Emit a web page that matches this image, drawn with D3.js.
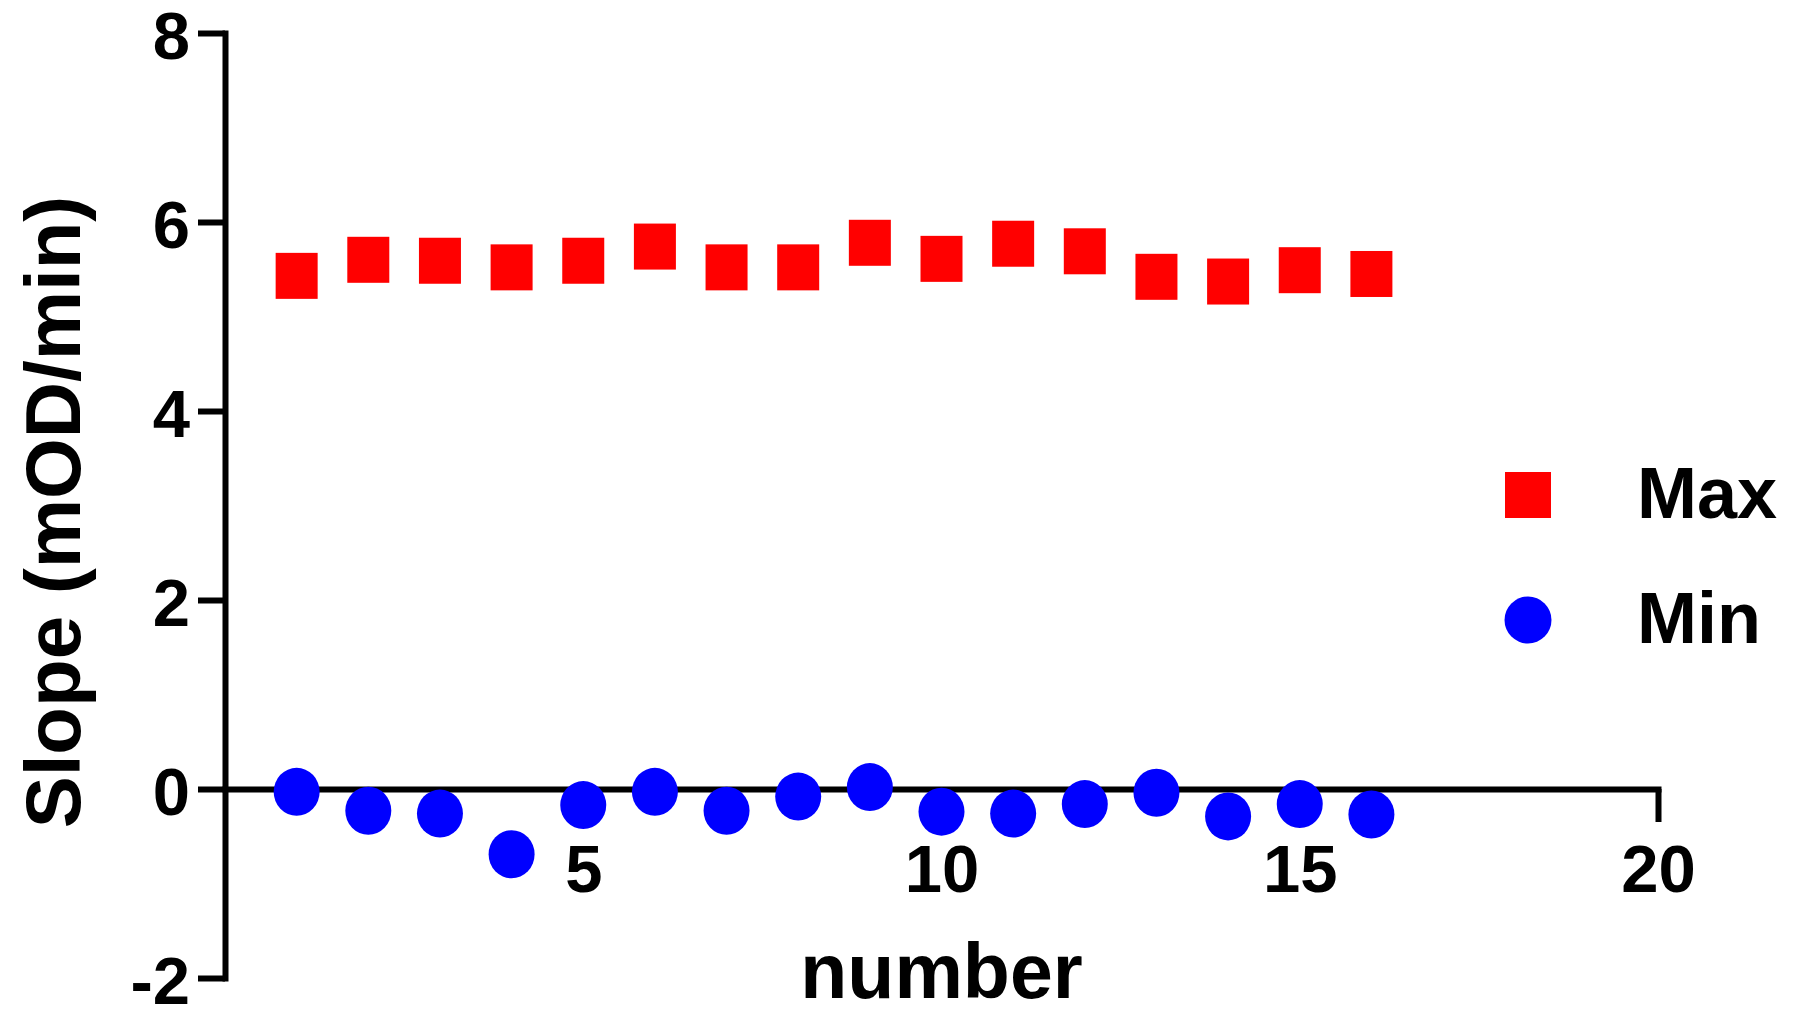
<!DOCTYPE html>
<html>
<head>
<meta charset="utf-8">
<script src="https://cdnjs.cloudflare.com/ajax/libs/d3/7.8.5/d3.min.js"></script>
<style>
  body { margin: 0; background: #fff; }
  svg { display: block; font-family: "Liberation Sans", Arial, sans-serif; }
  .axis path, .axis line { stroke: #000; stroke-width: 6px; }
  .axis text { font-size: 67px; font-weight: bold; fill: #000; }
</style>
</head>
<body>
<script>
// data
var numbers = d3.range(1, 17);
var maxVals = [5.43, 5.60, 5.59, 5.52, 5.59, 5.74, 5.52, 5.52, 5.78, 5.61, 5.77, 5.69, 5.42, 5.37, 5.49, 5.45];
var minVals = [-0.03, -0.23, -0.26, -0.69, -0.17, -0.03, -0.23, -0.08, 0.02, -0.24, -0.26, -0.16, -0.04, -0.29, -0.16, -0.27];
var xTicks = [5, 10, 15, 20];
var yTicks = [-2, 0, 2, 4, 6, 8];
var series = [
  {name: "Max", shape: "square", color: "#ff0000", values: maxVals},
  {name: "Min", shape: "circle", color: "#0000ff", values: minVals}
];

var width = 1800, height = 1028;
var svg = d3.select("body").append("svg")
  .attr("width", width)
  .attr("height", height);

var x = d3.scaleLinear().domain([0, 20]).range([225, 1658]);
var y = d3.scaleLinear().domain([-2, 8]).range([978, 33]);

// y axis
svg.append("g")
  .attr("class", "axis")
  .attr("transform", "translate(" + x(0) + ",0)")
  .call(d3.axisLeft(y).tickValues(yTicks).tickSize(27).tickSizeOuter(0).tickPadding(8).tickFormat(d3.format("d")))
  .call(g => g.selectAll("text").attr("dy", "0.38em").text(d => d < 0 ? "-" + Math.abs(d) : d));

// x axis along y = 0
svg.append("g")
  .attr("class", "axis")
  .attr("transform", "translate(0," + y(0) + ")")
  .call(d3.axisBottom(x).tickValues(xTicks).tickSize(33).tickSizeOuter(0).tickPadding(22));

svg.selectAll(".axis path").attr("stroke-linecap", "square");

// axis titles
svg.append("text")
  .attr("x", (x(0) + x(20)) / 2)
  .attr("y", 998)
  .attr("text-anchor", "middle")
  .style("font-size", "77px")
  .style("font-weight", "bold")
  .text("number");

svg.append("text")
  .attr("transform", "translate(80,512) rotate(-90)")
  .attr("text-anchor", "middle")
  .style("font-size", "78px")
  .style("font-weight", "bold")
  .text("Slope (mOD/min)");

// markers
var sqW = 42, sqH = 46, rad = 23;

svg.append("g").selectAll("rect")
  .data(maxVals)
  .enter().append("rect")
    .attr("x", (d, i) => x(numbers[i]) - sqW / 2)
    .attr("y", d => y(d) - sqH / 2)
    .attr("width", sqW)
    .attr("height", sqH)
    .attr("fill", series[0].color);

svg.append("g").selectAll("ellipse")
  .data(minVals)
  .enter().append("ellipse")
    .attr("cx", (d, i) => x(numbers[i]))
    .attr("cy", d => y(d))
    .attr("rx", rad)
    .attr("ry", rad + 1)
    .attr("fill", series[1].color);

// legend
var leg = svg.append("g").selectAll("g")
  .data(series)
  .enter().append("g")
    .attr("transform", (d, i) => "translate(1528," + (495 + i * 125) + ")");

leg.filter(d => d.shape == "square").append("rect")
  .attr("x", -23).attr("y", -23)
  .attr("width", 46).attr("height", 46)
  .attr("fill", d => d.color);

leg.filter(d => d.shape == "circle").append("circle")
  .attr("r", 23.5)
  .attr("fill", d => d.color);

leg.append("text")
  .attr("x", 109)
  .attr("y", 23)
  .style("font-size", "72px")
  .style("font-weight", "bold")
  .text(d => d.name);
</script>
</body>
</html>
